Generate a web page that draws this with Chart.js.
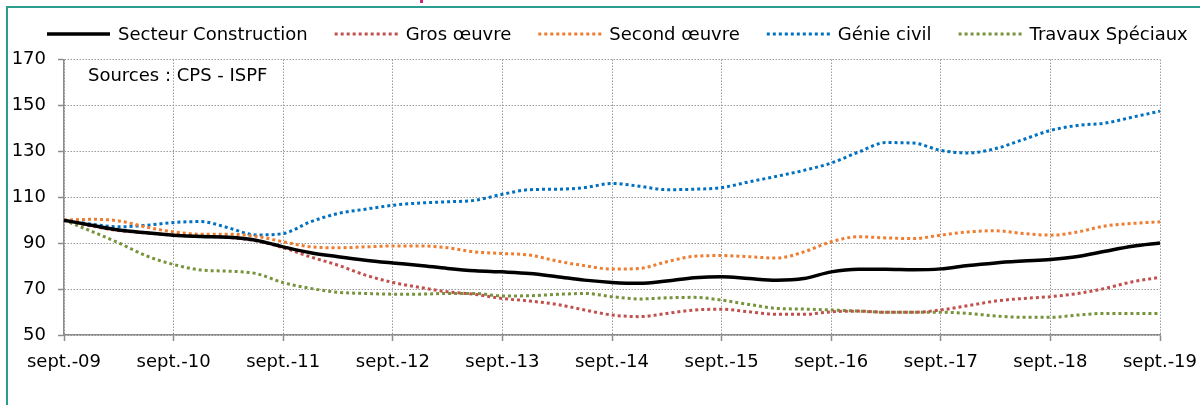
<!DOCTYPE html>
<html>
<head>
<meta charset="utf-8">
<script src="https://cdn.jsdelivr.net/npm/chart.js@4"></script>
<style>
  html, body { margin: 0; padding: 0; background: #fff; }
  #wrap { position: relative; width: 1200px; height: 405px; overflow: hidden; }
  #frame { position: absolute; left: 6px; top: 6px; width: 1300px; height: 500px;
           border-left: 2px solid #2a9d8f; border-top: 2px solid #2a9d8f; }
  #cut { position: absolute; left: 420px; top: 0; width: 3px; height: 3px; background: #c8287a; }
  canvas { position: absolute; left: 0; top: 0; }
</style>
</head>
<body>
<div id="wrap">
  <div id="frame"></div>
  <div id="cut"></div>
  <canvas id="indexChart" width="1200" height="405"></canvas>
</div>
<script>
// quarterly index, base 100 = sept. 2009
const quarterLabels = [
  'sept.-09', 'déc.-09', 'mars-10', 'juin-10',
  'sept.-10', 'déc.-10', 'mars-11', 'juin-11',
  'sept.-11', 'déc.-11', 'mars-12', 'juin-12',
  'sept.-12', 'déc.-12', 'mars-13', 'juin-13',
  'sept.-13', 'déc.-13', 'mars-14', 'juin-14',
  'sept.-14', 'déc.-14', 'mars-15', 'juin-15',
  'sept.-15', 'déc.-15', 'mars-16', 'juin-16',
  'sept.-16', 'déc.-16', 'mars-17', 'juin-17',
  'sept.-17', 'déc.-17', 'mars-18', 'juin-18',
  'sept.-18', 'déc.-18', 'mars-19', 'juin-19',
  'sept.-19'
];

const secteurConstruction = [
  100, 97.8, 95.7, 94.5, 93.5, 92.9, 92.6, 91.3, 88.4, 85.8,
  84.1, 82.6, 81.4, 80.3, 79.0, 78.0, 77.5, 76.8, 75.4, 73.9,
  72.9, 72.5, 73.5, 74.9, 75.4, 74.6, 73.9, 74.6, 77.5, 78.6,
  78.6, 78.4, 78.8, 80.3, 81.4, 82.2, 82.9, 84.2, 86.5, 88.7,
  90.1
];
const grosOeuvre = [
  100, 97.5, 95.5, 94.5, 93.5, 93.0, 92.5, 91.0, 88.0, 84.0,
  80.4, 76.1, 72.9, 70.7, 68.8, 67.7, 65.9, 64.8, 63.3, 60.9,
  58.7, 58.0, 59.4, 60.9, 61.2, 60.1, 59.0, 59.0, 60.1, 60.4,
  59.9, 59.9, 60.9, 62.8, 64.8, 65.9, 66.7, 68.1, 70.3, 73.2,
  75.1
];
const secondOeuvre = [
  100, 100.4, 99.7, 97.0, 94.9, 93.9, 93.9, 93.0, 90.6, 88.4,
  88.0, 88.4, 88.8, 88.8, 88.0, 86.2, 85.5, 84.8, 82.2, 80.2,
  78.7, 79.0, 81.9, 84.3, 84.6, 84.1, 83.5, 86.2, 90.6, 92.8,
  92.3, 92.0, 93.5, 94.9, 95.4, 94.2, 93.5, 94.9, 97.5, 98.6,
  99.3
];
const genieCivil = [
  100, 98.3, 97.1, 97.8, 99.0, 99.4, 96.7, 93.6, 94.2, 99.3,
  102.9, 104.8, 106.5, 107.5, 108.0, 108.7, 111.3, 113.3, 113.5, 114.2,
  116.0, 114.8, 113.3, 113.5, 114.2, 116.7, 119.1, 121.7, 124.9, 129.7,
  133.8, 133.6, 130.4, 129.3, 131.2, 135.1, 139.1, 141.3, 142.3, 144.9,
  147.5
];
const travauxSpeciaux = [
  100, 95.2, 90.1, 84.5, 80.7, 78.3, 77.8, 76.8, 72.8, 70.3,
  68.6, 68.1, 67.8, 67.8, 68.1, 68.1, 67.0, 67.1, 67.7, 68.1,
  66.7, 65.7, 66.2, 66.4, 65.2, 63.3, 61.6, 61.3, 60.9, 60.4,
  59.9, 59.9, 59.9, 59.4, 58.3, 57.7, 57.7, 58.7, 59.4, 59.4,
  59.4
];

const FAMILY = '"DejaVu Sans", sans-serif';
const FONT = '18px ' + FAMILY;
const GRID = '#9a9a9a';
const AXIS = '#8c8c8c';
const dots = [3, 3];

function dotted(label, data, color) {
  return {
    label: label, data: data,
    borderColor: color, borderWidth: 3, borderDash: dots,
    pointRadius: 0, fill: false, cubicInterpolationMode: 'monotone'
  };
}

// legend + source note drawn on the canvas, from the datasets
const topLegend = {
  id: 'topLegend',
  afterDraw(chart) {
    const ctx = chart.ctx;
    ctx.save();
    ctx.font = FONT;
    ctx.textBaseline = 'middle';
    let x = 47;
    const y = 34;
    chart.data.datasets.forEach(ds => {
      ctx.beginPath();
      ctx.strokeStyle = ds.borderColor;
      ctx.lineWidth = ds.borderWidth;
      ctx.setLineDash(ds.borderDash || []);
      ctx.moveTo(x, y);
      ctx.lineTo(x + 63, y);
      ctx.stroke();
      ctx.setLineDash([]);
      ctx.fillStyle = '#000';
      ctx.fillText(ds.label, x + 71, y + 1);
      x += 71 + ctx.measureText(ds.label).width + 27;
    });
    ctx.fillText('Sources : CPS - ISPF', 88, 76);
    ctx.restore();
  }
};

new Chart('indexChart', {
  type: 'line',
  data: {
    labels: quarterLabels,
    datasets: [
      {
        label: 'Secteur Construction', data: secteurConstruction,
        borderColor: '#000000', borderWidth: 3.5,
        pointRadius: 0, fill: false, cubicInterpolationMode: 'monotone'
      },
      dotted('Gros œuvre', grosOeuvre, '#c0504d'),
      dotted('Second œuvre', secondOeuvre, '#ed7d31'),
      dotted('Génie civil', genieCivil, '#0070c0'),
      dotted('Travaux Spéciaux', travauxSpeciaux, '#77933c')
    ]
  },
  options: {
    responsive: false,
    animation: false,
    layout: { padding: { top: 59.5, right: 40, left: 0, bottom: 0 } },
    plugins: {
      legend: { display: false },
      tooltip: { enabled: false }
    },
    scales: {
      x: {
        ticks: {
          color: '#000', font: { family: FAMILY, size: 18 },
          autoSkip: false, maxRotation: 0, padding: 11,
          callback: (v, i) => (i % 4 === 0 ? quarterLabels[i] : '')
        },
        grid: {
          color: c => (c.index % 4 === 0 ? GRID : 'rgba(0,0,0,0)'),
          tickColor: c => (c.index % 4 === 0 ? AXIS : 'rgba(0,0,0,0)'),
          tickLength: 6, tickWidth: 1.5, lineWidth: 1
        },
        border: { color: AXIS, width: 1.5, dash: [1.5, 1.5] },
        afterFit: s => { s.height = 70; s.paddingLeft = 0; s.paddingRight = 0; }
      },
      y: {
        min: 50, max: 170,
        ticks: {
          stepSize: 20, color: '#000', padding: 12,
          font: { family: FAMILY, size: 18 }
        },
        grid: { color: GRID, tickColor: AXIS, tickLength: 6, tickWidth: 1.5, lineWidth: 1 },
        border: { color: AXIS, width: 1.5, dash: [1.5, 1.5] },
        afterFit: s => { s.width = 64; }
      }
    }
  },
  plugins: [topLegend]
});
</script>
</body>
</html>
